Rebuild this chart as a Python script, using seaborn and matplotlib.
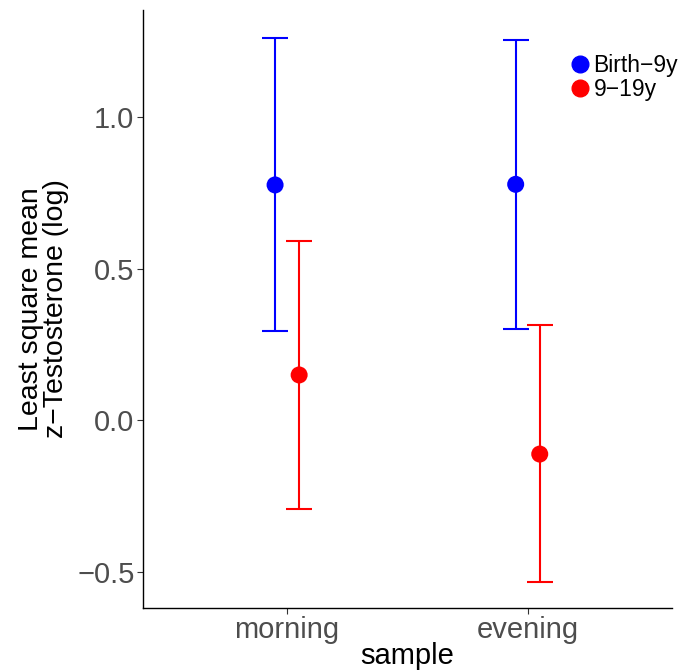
import numpy as np
import pandas as pd
import matplotlib.pyplot as plt
import seaborn as sns

# summary values
samples = ["morning", "evening"]
groups = ["Birth\u22129y", "9\u221219y"]
mean_birth = [0.776, 0.778]
lower_birth = [0.294, 0.300]
upper_birth = [1.261, 1.254]
mean_teen = [0.149, -0.112]
lower_teen = [-0.294, -0.535]
upper_teen = [0.591, 0.314]

colors = {groups[0]: "#0000FF", groups[1]: "#FF0000"}
offsets = {groups[0]: -0.05, groups[1]: 0.05}

df = pd.DataFrame({
    "sample": samples * 2,
    "group": [groups[0]] * 2 + [groups[1]] * 2,
    "mean": mean_birth + mean_teen,
    "lower": lower_birth + lower_teen,
    "upper": upper_birth + upper_teen,
})
df["xpos"] = [samples.index(s) + offsets[g] for s, g in zip(df["sample"], df["group"])]

sns.set_theme(style="white")
plt.rcParams["font.family"] = ["Liberation Sans", "DejaVu Sans"]

fig = plt.figure(figsize=(6.83, 6.70), dpi=100)
ax = fig.add_axes([0.209, 0.0925, 0.775, 0.8925])

for g in groups:
    sub = df[df["group"] == g]
    ax.errorbar(sub["xpos"], sub["mean"],
                yerr=[sub["mean"] - sub["lower"], sub["upper"] - sub["mean"]],
                fmt="none", ecolor=colors[g], elinewidth=1.5, capsize=9.5,
                capthick=1.5, zorder=2)

sns.scatterplot(data=df, x="xpos", y="mean", hue="group", palette=colors,
                s=150, edgecolor="none", ax=ax, zorder=3, legend=False)

ax.set_xlim(-0.6, 1.6)
ax.set_ylim(-0.62, 1.353)
ax.set_xticks(range(len(samples)))
ax.set_xticklabels(samples)
ax.set_yticks([-0.5, 0.0, 0.5, 1.0])
ax.set_yticklabels(["\u22120.5", "0.0", "0.5", "1.0"])
ax.tick_params(axis="both", labelsize=21, labelcolor="#4D4D4D",
               length=4, width=0.8, color="#333333", direction="out",
               left=True, bottom=True, pad=2)
ax.set_xlabel("sample", fontsize=21, color="black", labelpad=-2)
ax.set_ylabel("Least square mean\nz\u2212Testosterone (log)", fontsize=20.5,
              color="black", labelpad=6, linespacing=0.95)

for side in ["top", "right"]:
    ax.spines[side].set_visible(False)
for side in ["left", "bottom"]:
    ax.spines[side].set_color("black")
    ax.spines[side].set_linewidth(1.0)

handles = [plt.Line2D([], [], marker="o", linestyle="none", markersize=12,
                      color=colors[g]) for g in groups]
leg = ax.legend(handles, groups, loc="upper left",
                bbox_to_anchor=(566 / 683, 1 - 54 / 670), bbox_transform=fig.transFigure,
                frameon=False, fontsize=16.5, handletextpad=0.0,
                labelspacing=0.05, borderaxespad=0, borderpad=0, handlelength=1.2)
for t in leg.get_texts():
    t.set_color("black")

fig.savefig("out.png", dpi=100)
plt.close(fig)
